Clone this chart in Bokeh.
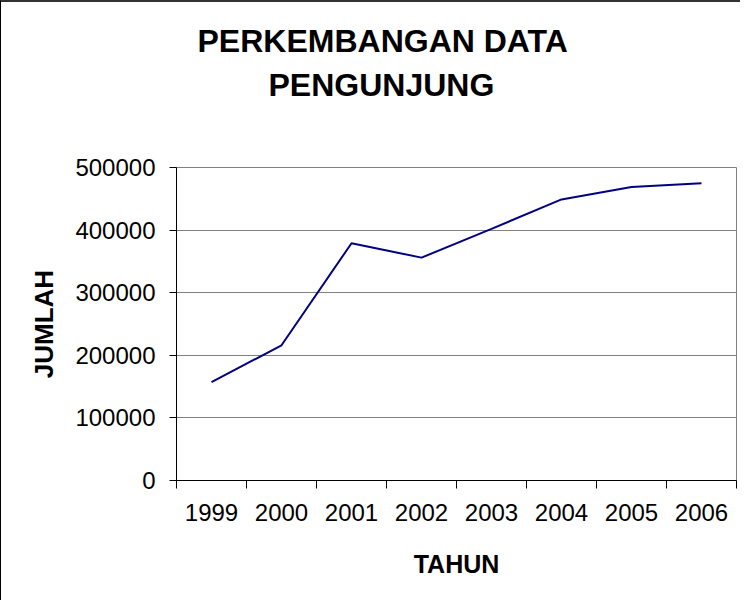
from bokeh.plotting import figure
from bokeh.models import FixedTicker, Title, BasicTickFormatter, Range1d
from bokeh.embed import file_html
from bokeh.resources import INLINE

# ---- data ----
years = [1999, 2000, 2001, 2002, 2003, 2004, 2005, 2006]
year_labels = ["1999", "2000", "2001", "2002", "2003", "2004", "2005", "2006"]
visitors = [157000, 216000, 379000, 356000, 402000, 449000, 469000, 475000]
y_ticks = [0, 100000, 200000, 300000, 400000, 500000]
title_lines = ["PERKEMBANGAN DATA", "PENGUNJUNG"]
x_title = "TAHUN"
y_title = "JUMLAH"

FONT = "Liberation Sans"

p = figure(
    width=740, height=600,
    output_backend="svg", toolbar_location=None,
    x_range=Range1d(years[0] - 0.5, years[-1] + 0.5),
    y_range=Range1d(y_ticks[0], y_ticks[-1]),
    min_border_left=175, min_border_right=5,
    min_border_top=165, min_border_bottom=122,
    background_fill_color="white", border_fill_color="white",
    styles={"border-left": "1px solid #000000", "border-top": "2px solid #333333"},
)

p.line(years, visitors, line_color="#000080", line_width=2)

# frame
p.outline_line_color = "#808080"
p.outline_line_width = 1

# grids
p.xgrid.visible = False
p.ygrid.ticker = FixedTicker(ticks=y_ticks)
p.ygrid.grid_line_color = "#808080"
p.ygrid.grid_line_width = 1

# x axis: labels at category centres, ticks at category boundaries
xa = p.xaxis[0]
xa.ticker = FixedTicker(ticks=years,
                        minor_ticks=[y - 0.5 for y in years] + [years[-1] + 0.5])
xa.major_label_overrides = {y: lab for y, lab in zip(years, year_labels)}
xa.major_tick_line_color = None
xa.major_tick_out = 8
xa.major_tick_in = 0
xa.minor_tick_line_color = "black"
xa.minor_tick_out = 8
xa.minor_tick_in = 0
xa.axis_line_color = "black"
xa.axis_line_width = 1
xa.major_label_text_font = FONT
xa.major_label_text_font_size = "24px"
xa.major_label_text_color = "black"
xa.major_label_standoff = 15
xa.axis_label = x_title
xa.axis_label_text_font = FONT
xa.axis_label_text_font_size = "25px"
xa.axis_label_text_font_style = "bold"
xa.axis_label_text_color = "black"
xa.axis_label_standoff = 26

# y axis
ya = p.yaxis[0]
ya.ticker = FixedTicker(ticks=y_ticks)
ya.formatter = BasicTickFormatter(use_scientific=False)
ya.minor_tick_line_color = None
ya.major_tick_out = 7
ya.major_tick_in = 0
ya.major_tick_line_color = "black"
ya.axis_line_color = "black"
ya.axis_line_width = 1
ya.major_label_text_font = FONT
ya.major_label_text_font_size = "24px"
ya.major_label_text_color = "black"
ya.major_label_standoff = 14
ya.axis_label = y_title
ya.axis_label_text_font = FONT
ya.axis_label_text_font_size = "26px"
ya.axis_label_text_font_style = "bold"
ya.axis_label_text_color = "black"
ya.axis_label_standoff = 13

# two-line title, stacked upward from the frame: spacer, line 2, line 1
p.add_layout(Title(text=" ", align="left", standoff=21,
                   text_font=FONT, text_font_size="32px"), "above")
p.add_layout(Title(text=title_lines[1], align="left", offset=92, standoff=12,
                   text_font=FONT, text_font_size="32px", text_font_style="bold",
                   text_color="black"), "above")
p.add_layout(Title(text=title_lines[0], align="left", offset=21, standoff=0,
                   text_font=FONT, text_font_size="32px", text_font_style="bold",
                   text_color="black"), "above")

open("out.html", "w").write(file_html(p, INLINE))
